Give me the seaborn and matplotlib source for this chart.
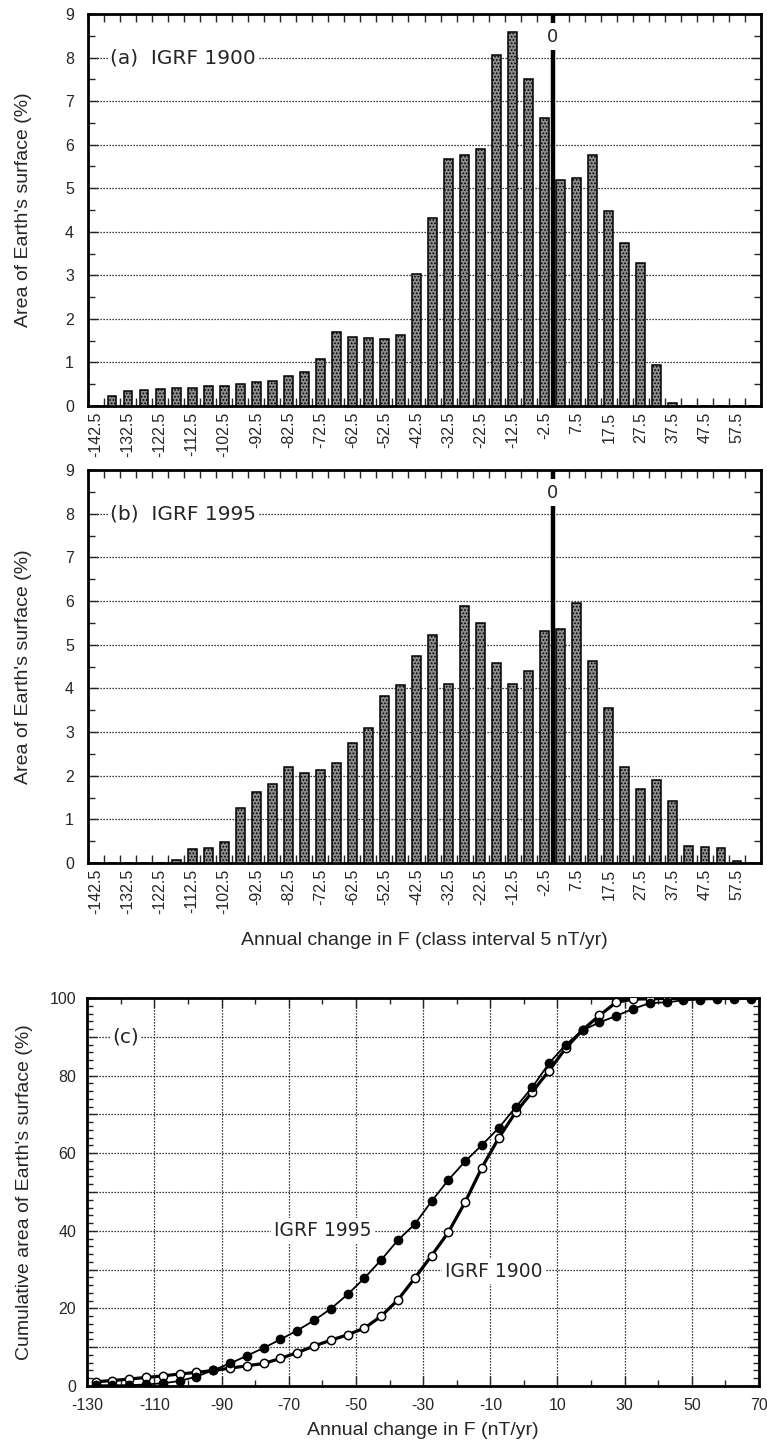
import numpy as np
import pandas as pd
import matplotlib
matplotlib.use("Agg")
import matplotlib.pyplot as plt
import seaborn as sns
from matplotlib.ticker import MultipleLocator, FuncFormatter

# ---------------- data ----------------
bin_centers = [-142.5, -137.5, -132.5, -127.5, -122.5, -117.5, -112.5, -107.5,
               -102.5, -97.5, -92.5, -87.5, -82.5, -77.5, -72.5, -67.5,
               -62.5, -57.5, -52.5, -47.5, -42.5, -37.5, -32.5, -27.5,
               -22.5, -17.5, -12.5, -7.5, -2.5, 2.5, 7.5, 12.5,
               17.5, 22.5, 27.5, 32.5, 37.5, 42.5, 47.5, 52.5, 57.5, 62.5]

pct_1900 = [0, 0.23, 0.34, 0.37, 0.40, 0.42, 0.42, 0.46, 0.46, 0.51, 0.56,
            0.57, 0.69, 0.78, 1.09, 1.70, 1.59, 1.56, 1.53, 1.62, 3.02, 4.31,
            5.68, 5.76, 5.89, 8.05, 8.59, 7.50, 6.62, 5.18, 5.24, 5.76, 4.47,
            3.75, 3.28, 0.93, 0.08, 0, 0, 0, 0, 0]

pct_1995 = [0, 0, 0, 0, 0, 0.08, 0.31, 0.34, 0.49, 1.27, 1.62, 1.82, 2.20,
            2.05, 2.13, 2.30, 2.75, 3.10, 3.83, 4.07, 4.73, 5.21, 4.10, 5.88,
            5.49, 4.58, 4.09, 4.39, 5.32, 5.35, 5.95, 4.63, 3.55, 2.19, 1.70,
            1.89, 1.42, 0.40, 0.37, 0.35, 0.05, 0]

hist_tick_values = [-142.5, -132.5, -122.5, -112.5, -102.5, -92.5, -82.5,
                    -72.5, -62.5, -52.5, -42.5, -32.5, -22.5, -12.5, -2.5,
                    7.5, 17.5, 27.5, 37.5, 47.5, 57.5]
hist_tick_labels = ["-142.5", "-132.5", "-122.5", "-112.5", "-102.5", "-92.5",
                    "-82.5", "-72.5", "-62.5", "-52.5", "-42.5", "-32.5",
                    "-22.5", "-12.5", "-2.5", "7.5", "17.5", "27.5", "37.5",
                    "47.5", "57.5"]

cum_x_1995 = [-127.5, -122.5, -117.5, -112.5, -107.5, -102.5, -97.5, -92.5,
              -87.5, -82.5, -77.5, -72.5, -67.5, -62.5, -57.5, -52.5, -47.5,
              -42.5, -37.5, -32.5, -27.5, -22.5, -17.5, -12.5, -7.5, -2.5,
              2.5, 7.5, 12.5, 17.5, 22.5, 27.5, 32.5, 37.5, 42.5, 47.5, 52.5,
              57.5, 62.5, 67.5]
cum_1995 = [0.2, 0.2, 0.2, 0.4, 0.7, 1.3, 2.4, 4.1, 5.8, 7.8, 9.8, 12.0, 14.3,
            16.9, 19.9, 23.6, 27.8, 32.5, 37.6, 41.7, 47.6, 53.1, 57.9, 62.1,
            66.5, 71.8, 77.0, 83.2, 88.0, 91.7, 93.7, 95.4, 97.2, 98.7, 98.9,
            99.4, 99.6, 99.7, 99.8, 99.8]

cum_x_1900 = [-127.5, -122.5, -117.5, -112.5, -107.5, -102.5, -97.5, -92.5,
              -87.5, -82.5, -77.5, -72.5, -67.5, -62.5, -57.5, -52.5, -47.5,
              -42.5, -37.5, -32.5, -27.5, -22.5, -17.5, -12.5, -7.5, -2.5,
              2.5, 7.5, 12.5, 17.5, 22.5, 27.5, 32.5, 37.5, 42.5, 47.5]
cum_1900 = [1.1, 1.4, 1.8, 2.2, 2.6, 3.1, 3.5, 4.0, 4.6, 5.2, 5.8, 7.1, 8.6,
            10.3, 11.8, 13.2, 14.9, 18.0, 22.2, 27.8, 33.6, 39.6, 47.4, 56.3,
            63.9, 70.5, 75.8, 81.3, 87.1, 91.8, 95.5, 98.9, 99.7, 99.8, 99.9,
            100.0]

# ---------------- style ----------------
sns.set_style("white")
plt.rcParams["font.family"] = ["Liberation Sans", "DejaVu Sans"]
plt.rcParams["axes.unicode_minus"] = False
plt.rcParams["hatch.linewidth"] = 0.8
plt.rcParams["hatch.color"] = "black"

ANNOT_FONT = ["DejaVu Sans"]
GRID_LS = (0, (1, 1.4))

fig = plt.figure(figsize=(7.67, 14.5), dpi=100)
ax_a = fig.add_axes([88 / 767, 1 - 406 / 1450, 673 / 767, 392 / 1450])
ax_b = fig.add_axes([88 / 767, 1 - 863 / 1450, 673 / 767, 393 / 1450])
ax_c = fig.add_axes([87.3 / 767, 1 - 1386 / 1450, 671.7 / 767, 388 / 1450])


def style_spines(ax):
    for s in ax.spines.values():
        s.set_linewidth(2.0)
        s.set_color("black")
        s.set_visible(True)


def hist_panel(ax, vals, title):
    df = pd.DataFrame({"center": bin_centers, "pct": vals})
    sns.barplot(data=df, x="center", y="pct", native_scale=True, width=0.55,
                color="#8c8c8c", saturation=1, edgecolor="black",
                linewidth=1.1, hatch=".....", ax=ax, zorder=3)
    ax.set_xlim(-145, 65)
    ax.set_ylim(0, 9)
    ax.set_axisbelow(True)
    ax.yaxis.grid(True, linestyle=GRID_LS, color="black", linewidth=0.9)
    ax.xaxis.grid(False)
    ax.set_xticks(hist_tick_values)
    ax.set_xticklabels(hist_tick_labels, rotation=90)
    ax.xaxis.set_minor_locator(MultipleLocator(5))
    ax.tick_params(axis="x", which="major", length=0, pad=4, labelsize=11.5)
    ax.tick_params(axis="x", which="minor", length=6, width=1.0,
                   direction="in", top=True, bottom=True)
    ax.set_yticks(range(10))
    ax.yaxis.set_minor_locator(MultipleLocator(0.5))
    ax.tick_params(axis="y", which="major", length=7, width=1.0,
                   direction="in", left=True, right=True, labelsize=11.5, pad=10)
    ax.tick_params(axis="y", which="minor", length=5, width=1.0,
                   direction="in", left=True, right=True)
    ax.set_xlabel("")
    ax.set_ylabel("Area of Earth's surface (%)", fontsize=14)
    ax.yaxis.set_label_coords(-0.083, 0.5)
    # zero reference line with its label
    ax.vlines(0, 0, 8.18, color="black", linewidth=3.2, zorder=5)
    ax.vlines(0, 8.8, 9, color="black", linewidth=3.2, zorder=5)
    ax.text(0, 8.48, "0", ha="center", va="center", fontsize=13,
            family=ANNOT_FONT, zorder=6)
    ax.text(-138, 8, title, ha="left", va="center", fontsize=14.5,
            family=ANNOT_FONT, zorder=6,
            bbox=dict(facecolor="white", edgecolor="none", pad=1.5))
    style_spines(ax)


hist_panel(ax_a, pct_1900, "(a)  IGRF 1900")
hist_panel(ax_b, pct_1995, "(b)  IGRF 1995")
ax_b.set_xlabel("Annual change in F (class interval 5 nT/yr)", fontsize=14)
ax_b.xaxis.set_label_coords(0.5, -0.175)

# ---------------- panel c ----------------
ax = ax_c
sns.lineplot(x=cum_x_1900, y=cum_1900, ax=ax, color="black", linewidth=2.3,
             marker="o", markersize=6, markerfacecolor="white",
             markeredgecolor="black", markeredgewidth=1.1, zorder=4)
sns.lineplot(x=cum_x_1995, y=cum_1995, ax=ax, color="black", linewidth=1.3,
             marker="o", markersize=6, markerfacecolor="black",
             markeredgecolor="black", markeredgewidth=1.0, zorder=5)
ax.set_xlim(-130, 70)
ax.set_ylim(0, 100)
ax.set_axisbelow(True)
ax.set_xticks(np.arange(-130, 71, 20))
ax.xaxis.set_minor_locator(MultipleLocator(10))
ax.yaxis.set_major_locator(MultipleLocator(10))
ax.yaxis.set_major_formatter(FuncFormatter(
    lambda v, p: f"{int(round(v))}" if int(round(v)) % 20 == 0 else ""))
ax.yaxis.set_minor_locator(MultipleLocator(2))
ax.grid(True, which="major", linestyle=GRID_LS, color="black", linewidth=0.9)
ax.tick_params(axis="both", which="major", length=7, width=1.0,
               direction="in", top=True, bottom=True, left=True, right=True,
               labelsize=11.5)
ax.tick_params(axis="x", which="major", pad=9)
ax.tick_params(axis="y", which="major", pad=8)
ax.tick_params(axis="both", which="minor", length=4, width=1.0,
               direction="in", top=True, bottom=True, left=True, right=True)
ax.set_xlabel("Annual change in F (nT/yr)", fontsize=14)
ax.xaxis.set_label_coords(0.5, -0.093)
ax.set_ylabel("Cumulative area of Earth's surface (%)", fontsize=14)
ax.yaxis.set_label_coords(-0.081, 0.5)
ax.text(-118.5, 90, "(c)", ha="center", va="center", fontsize=14.5,
        family=ANNOT_FONT, zorder=6,
        bbox=dict(facecolor="white", edgecolor="none", pad=1.5))
ax.text(-60, 40, "IGRF 1995", ha="center", va="center", fontsize=13.5,
        family=ANNOT_FONT, zorder=6,
        bbox=dict(facecolor="white", edgecolor="none", pad=2))
ax.text(-9, 29.5, "IGRF 1900", ha="center", va="center", fontsize=13.5,
        family=ANNOT_FONT, zorder=6,
        bbox=dict(facecolor="white", edgecolor="none", pad=2))
style_spines(ax)

fig.savefig("out.png", dpi=100, facecolor="white")
